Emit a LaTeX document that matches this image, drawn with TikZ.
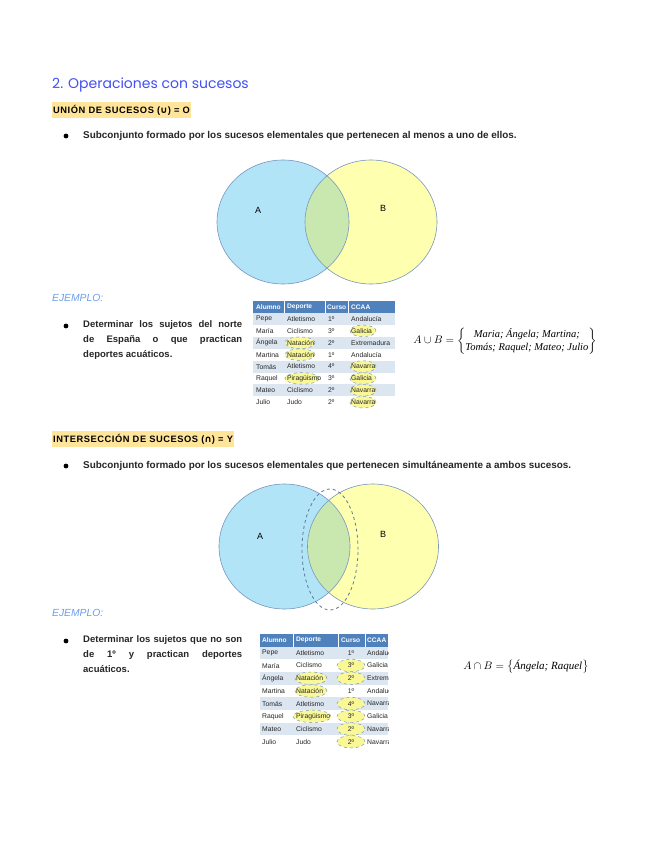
\documentclass[tikz,border=0pt]{standalone}
\usepackage{amsmath}
\usepackage{fontspec}
\setmainfont{Liberation Sans}
\newfontfamily\titlefont{Poppins}
\newfontfamily\namesfont{Liberation Serif}
\newfontfamily\headfont[LetterSpace=6]{Liberation Sans}
\newfontfamily\symfont{DejaVu Sans}
\definecolor{optitle}{RGB}{66,80,240}
\definecolor{ophigh}{RGB}{255,229,153}
\definecolor{opejem}{RGB}{109,158,235}
\definecolor{vennA}{RGB}{178,228,248}
\definecolor{vennB}{RGB}{255,255,176}
\definecolor{vennAB}{RGB}{200,232,176}
\definecolor{vennline}{RGB}{120,150,190}
\definecolor{tabhead}{RGB}{79,129,189}
\definecolor{tabrow}{RGB}{220,230,241}
\definecolor{marca}{RGB}{250,248,150}
\usetikzlibrary{positioning}

\begin{document}
\begin{tikzpicture}[x=1pt,y=-1pt,
  bala/.style={circle, fill=black, inner sep=1.7pt},
  cuerpo/.style={anchor=west, inner sep=0pt, text=black!85, font=\fontsize{9.9}{12}\selectfont\bfseries},
  ejemplo/.style={anchor=north west, inner sep=0pt, text width=159pt, align=justify, text=black!85, font=\fontsize{9.5}{15}\selectfont\bfseries},
  titular/.style={anchor=west, fill=ophigh, inner xsep=1pt, inner ysep=3pt, font=\fontsize{9.3}{10}\selectfont\headfont\bfseries},
  celda/.style={anchor=west, inner sep=0pt, text=black!85, font=\fontsize{6.8}{7}\selectfont},
  cabecera/.style={anchor=west, inner sep=0pt, text=white, font=\fontsize{6.6}{7}\selectfont\bfseries},
  resalte/.style={draw=vennline, dashed, fill=marca, line width=0.5pt}]
  \useasboundingbox[fill=white] (0,0) rectangle (655,848);

  %% Titulo
  \node[anchor=west, inner sep=0pt, text=optitle, font=\fontsize{14}{16}\selectfont\titlefont] (titulo) at (52,85) {2. Operaciones con sucesos};

  %% Union
  \node[titular] (union) at (52,110) {UNIÓN DE SUCESOS ({\symfont ∪}) = O};
  \node[bala] (b1) at (66,136) {};
  \node[cuerpo] (t1) at (83,136) {Subconjunto formado por los sucesos elementales que pertenecen al menos a uno de ellos.};

  \coordinate (cA) at (283,222);
  \coordinate (cB) at (371,222);
  \fill[vennA] (cA) ellipse [x radius=66pt, y radius=62pt];
  \fill[vennB] (cB) ellipse [x radius=66pt, y radius=62pt];
  \begin{scope}
    \clip (cA) ellipse [x radius=66pt, y radius=62pt];
    \fill[vennAB] (cB) ellipse [x radius=66pt, y radius=62pt];
  \end{scope}
  \draw[vennline, line width=0.6pt] (cA) ellipse [x radius=66pt, y radius=62pt];
  \draw[vennline, line width=0.6pt] (cB) ellipse [x radius=66pt, y radius=62pt];
  \node[font=\fontsize{9}{10}\selectfont] (lA) at (258,210) {A};
  \node[font=\fontsize{9}{10}\selectfont] (lB) at (383,208) {B};

  \node[anchor=west, inner sep=0pt, text=opejem, font=\fontsize{10.3}{11}\selectfont\itshape] (ej1) at (52,298) {EJEMPLO:};
  \node[bala] (b2) at (66,326) {};
  \node[ejemplo] (t2) at (83,320) {Determinar los sujetos del norte\linebreak de España o que practican\linebreak deportes acuáticos.};

  %% Tabla 1
  \fill[tabhead] (253,301) rectangle (395,313);
  \foreach \i in {1,3,5,7}
    \fill[tabrow] (253,{313+(\i-1)*11.9}) rectangle (395,{313+\i*11.9});
  \foreach \xc in {284,325,348}
    \draw[white, line width=0.6pt] (\xc,301) -- (\xc,313);
  \foreach \cx/\r/\rx in {300/3/15, 300/4/15, 302/6/17, 363/2/13, 363/6/13, 363/5/13, 363/7/13, 363/8/13}
    \draw[resalte] (\cx,{313+(\r-0.5)*11.9}) ellipse [x radius=\rx pt, y radius=5.8pt];
  \node[cabecera] (ha1) at (256,307) {Alumno};
  \node[cabecera] (ha2) at (287,307) {Deporte};
  \node[cabecera] (ha3) at (327,307) {Curso};
  \node[cabecera] (ha4) at (351,307) {CCAA};
  \foreach \nom/\dep/\cur/\reg [count=\i] in {Pepe/Atletismo/1º/Andalucía, María/Ciclismo/3º/Galicia, Ángela/Natación/2º/Extremadura, Martina/Natación/1º/Andalucía, Tomás/Atletismo/4º/Navarra, Raquel/Piragüismo/3º/Galicia, Mateo/Ciclismo/2º/Navarra, Julio/Judo/2º/Navarra} {
    \node[celda] (ta\i) at (256,{313+(\i-0.5)*11.9}) {\nom};
    \node[celda] (tb\i) at (287,{313+(\i-0.5)*11.9}) {\dep};
    \node[celda] (tc\i) at (328,{313+(\i-0.5)*11.9}) {\cur};
    \node[celda] (td\i) at (351,{313+(\i-0.5)*11.9}) {\reg};
  }

  \node[font=\fontsize{10.5}{13}\selectfont] (f1) at (505,341) {$A\cup B=\left\{\begin{matrix}\text{\namesfont\itshape Maria; Ángela; Martina;}\\ \text{\namesfont\itshape Tomás; Raquel; Mateo; Julio}\end{matrix}\right\}$};

  %% Interseccion
  \node[titular] (inter) at (52,439) {INTERSECCIÓN DE SUCESOS ({\symfont ∩}) = Y};
  \node[bala] (b3) at (66,466) {};
  \node[cuerpo] (t3) at (83,466) {Subconjunto formado por los sucesos elementales que pertenecen simultáneamente a ambos sucesos.};

  \coordinate (dA) at (284.5,546.5);
  \coordinate (dB) at (373,546.5);
  \coordinate (dI) at (330,549.5);
  \fill[vennA] (dA) ellipse [x radius=65.5pt, y radius=62.5pt];
  \fill[vennB] (dB) ellipse [x radius=65.5pt, y radius=62.5pt];
  \begin{scope}
    \clip (dA) ellipse [x radius=65.5pt, y radius=62.5pt];
    \fill[vennAB] (dB) ellipse [x radius=65.5pt, y radius=62.5pt];
  \end{scope}
  \draw[vennline, line width=0.6pt] (dA) ellipse [x radius=65.5pt, y radius=62.5pt];
  \draw[vennline, line width=0.6pt] (dB) ellipse [x radius=65.5pt, y radius=62.5pt];
  \draw[vennline!80!black, dashed, line width=0.8pt] (dI) ellipse [x radius=28pt, y radius=60.5pt];
  \node[font=\fontsize{9}{10}\selectfont] (mA) at (260,536) {A};
  \node[font=\fontsize{9}{10}\selectfont] (mB) at (383,534) {B};

  \node[anchor=west, inner sep=0pt, text=opejem, font=\fontsize{10.3}{11}\selectfont\itshape] (ej2) at (52,613) {EJEMPLO:};
  \node[bala] (b4) at (66,641) {};
  \node[ejemplo] (t4) at (83,635) {Determinar los sujetos que no son\linebreak de 1º y practican deportes\linebreak acuáticos.};

  %% Tabla 2
  \begin{scope}
    \clip (260,634) rectangle (388,749);
    \fill[tabhead] (260,634) rectangle (388,646.5);
    \foreach \i in {1,3,5,7}
      \fill[tabrow] (260,{646.5+(\i-1)*12.7}) rectangle (388,{646.5+\i*12.7});
    \foreach \xc in {293,338,365}
      \draw[white, line width=0.6pt] (\xc,634) -- (\xc,646.5);
    \foreach \cx/\r/\rx in {311/3/16, 311/4/16, 312/6/19, 351/2/14, 351/3/14, 351/5/14, 351/6/14, 351/7/14, 351/8/14}
      \draw[resalte] (\cx,{646.5+(\r-0.5)*12.7}) ellipse [x radius=\rx pt, y radius=6.2pt];
    \node[cabecera] (hb1) at (262,640) {Alumno};
    \node[cabecera] (hb2) at (296,640) {Deporte};
    \node[cabecera] (hb3) at (341,640) {Curso};
    \node[cabecera] (hb4) at (367,640) {CCAA};
    \foreach \nom/\dep/\cur/\reg [count=\i] in {Pepe/Atletismo/1º/Andalucía, María/Ciclismo/3º/Galicia, Ángela/Natación/2º/Extremadura, Martina/Natación/1º/Andalucía, Tomás/Atletismo/4º/Navarra, Raquel/Piragüismo/3º/Galicia, Mateo/Ciclismo/2º/Navarra, Julio/Judo/2º/Navarra} {
      \node[celda] (sa\i) at (262,{646.5+(\i-0.5)*12.7}) {\nom};
      \node[celda] (sb\i) at (296,{646.5+(\i-0.5)*12.7}) {\dep};
      \node[celda, anchor=center] (sc\i) at (351,{646.5+(\i-0.5)*12.7}) {\cur};
      \node[celda] (sd\i) at (367,{646.5+(\i-0.5)*12.7}) {\reg};
    }
  \end{scope}

  \node[font=\fontsize{11}{13}\selectfont] (f2) at (526,667) {$A\cap B=\left\{\text{\namesfont\itshape Ángela; Raquel}\right\}$};
\end{tikzpicture}
\end{document}
